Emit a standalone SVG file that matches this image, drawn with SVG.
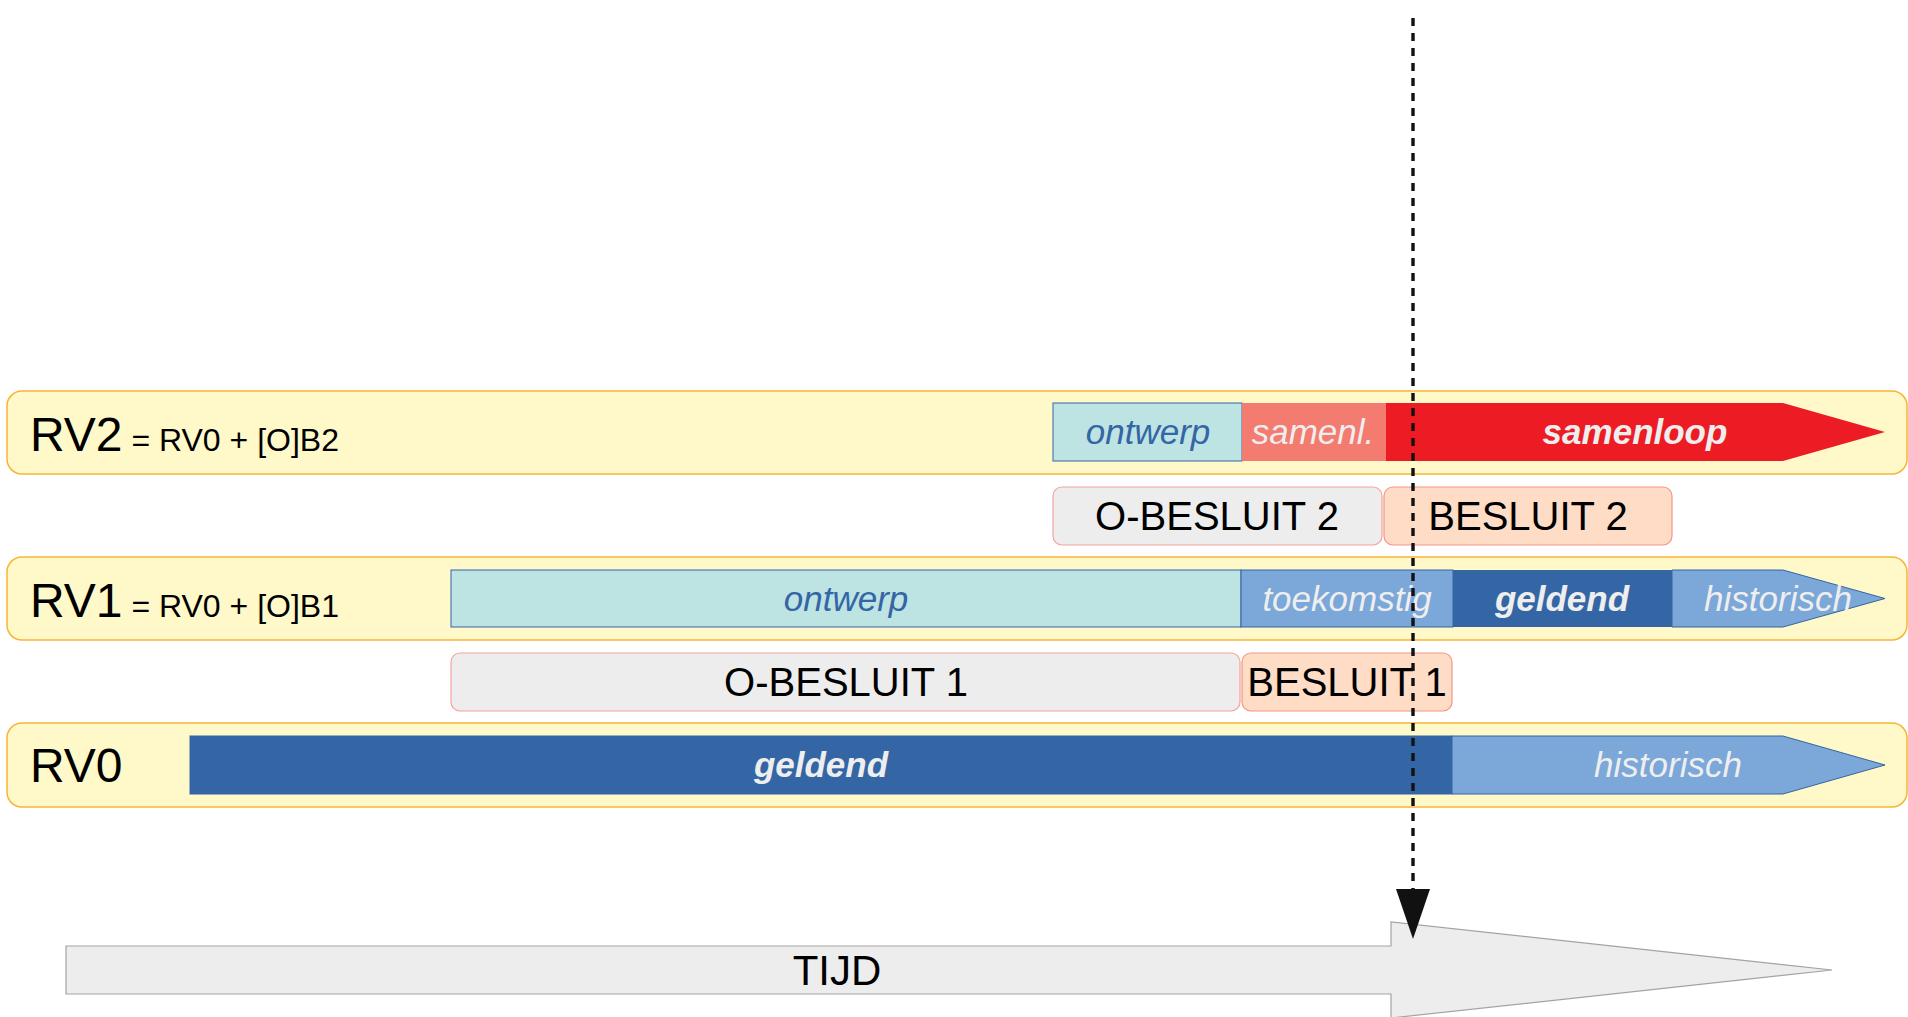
<svg xmlns="http://www.w3.org/2000/svg" width="1908" height="1017" viewBox="0 0 1908 1017">
<style>
.lane{fill:#fff9c9;stroke:#f7b538;stroke-width:1.5}
.lbl{font-family:"Liberation Sans",Arial,sans-serif;fill:#000}
.big{font-size:48px}
.small{font-size:32px}
.bar{stroke:#3465a4;stroke-width:1}
.t{font-family:"Liberation Sans",Arial,sans-serif;font-size:35px;font-style:italic;text-anchor:middle}
.dk{fill:#3465a4}
.lt{fill:#eeeeee}
.b{font-weight:bold}
.obes{fill:#ededed;stroke:#f4a39a;stroke-width:1.2}
.bes{fill:#ffdcc5;stroke:#f49585;stroke-width:1.2}
.bt{font-family:"Liberation Sans",Arial,sans-serif;font-size:40px;text-anchor:middle;fill:#000}
</style>
<defs>
<marker id="ah" markerWidth="50" markerHeight="34" refX="0" refY="17" orient="auto" markerUnits="userSpaceOnUse" viewBox="0 0 50 34">
<path d="M0,0 L50,17 L0,34 Z" fill="#111"/>
</marker>
</defs>

<g id="tijd">
<path d="M66,946 L1391,946 L1391,922 L1832,970 L1391,1018 L1391,994 L66,994 Z" fill="#ededed" stroke="#a3a3a3" stroke-width="1.2"/>
<text class="lbl" x="837" y="985" font-size="42" text-anchor="middle">TIJD</text>
</g>

<g id="rv2">
<rect class="lane" x="7" y="391" width="1900" height="83" rx="15"/>
<text class="lbl" x="30" y="451"><tspan class="big">RV2</tspan><tspan class="small"> = RV0 + [O]B2</tspan></text>
<rect class="bar" x="1053" y="403" width="189" height="58" fill="#bde3e3"/>
<text class="t dk" x="1148" y="444">ontwerp</text>
<rect x="1242" y="403" width="144" height="58" fill="#f47b70"/>
<text class="t lt" x="1313" y="444">samenl.</text>
<path d="M1386,403 L1783,403 L1885,432 L1783,461 L1386,461 Z" fill="#ed1c24"/>
<text class="t lt b" x="1635" y="444">samenloop</text>
</g>

<g id="besluit2">
<rect class="obes" x="1053" y="487" width="329" height="58" rx="9"/>
<text class="bt" x="1217" y="530">O-BESLUIT 2</text>
<rect class="bes" x="1384" y="487" width="288" height="58" rx="9"/>
<text class="bt" x="1528" y="530">BESLUIT 2</text>
</g>

<g id="rv1">
<rect class="lane" x="7" y="557" width="1900" height="83" rx="15"/>
<text class="lbl" x="30" y="617"><tspan class="big">RV1</tspan><tspan class="small"> = RV0 + [O]B1</tspan></text>
<rect class="bar" x="451" y="570" width="790" height="57" fill="#bde3e3"/>
<text class="t dk" x="846" y="611">ontwerp</text>
<rect class="bar" x="1241" y="570" width="212" height="57" fill="#7ba7d9"/>
<text class="t lt" x="1347" y="611">toekomstig</text>
<rect x="1453" y="570" width="219" height="57" fill="#3465a4"/>
<text class="t lt b" x="1562" y="611">geldend</text>
<path class="bar" d="M1672,570 L1783,570 L1885,598.5 L1783,627 L1672,627 Z" fill="#7ba7d9"/>
<text class="t lt" x="1778" y="611">historisch</text>
</g>

<g id="besluit1">
<rect class="obes" x="451" y="653" width="789" height="58" rx="9"/>
<text class="bt" x="846" y="696">O-BESLUIT 1</text>
<rect class="bes" x="1242" y="653" width="210" height="58" rx="9"/>
<text class="bt" x="1347" y="696">BESLUIT 1</text>
</g>

<g id="rv0">
<rect class="lane" x="7" y="723" width="1900" height="84" rx="15"/>
<text class="lbl big" x="30" y="782">RV0</text>
<rect class="bar" x="190" y="736" width="1262" height="58" fill="#3465a4"/>
<text class="t lt b" x="821" y="777">geldend</text>
<path class="bar" d="M1452,736 L1783,736 L1885,765 L1783,794 L1452,794 Z" fill="#7ba7d9"/>
<text class="t lt" x="1668" y="777">historisch</text>
</g>

<g id="connectors">
<line x1="1413" y1="18" x2="1413" y2="889" stroke="#111" stroke-width="3.4" stroke-dasharray="8 7" marker-end="url(#ah)"/>
</g>
</svg>
